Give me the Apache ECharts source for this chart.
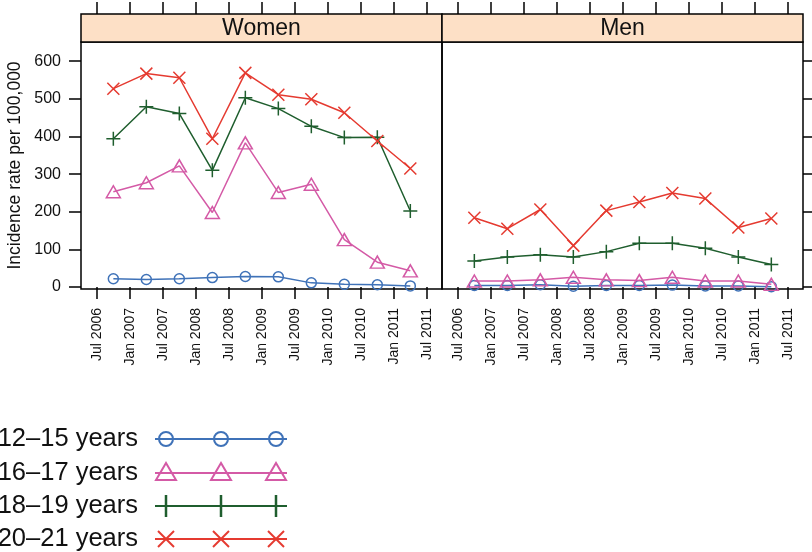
<!DOCTYPE html>
<html>
<head>
<meta charset="utf-8">
<script src="https://cdn.jsdelivr.net/npm/echarts@6/dist/echarts.min.js"></script>
<style>
html,body{margin:0;padding:0;background:#fff;}
#chart{width:812px;height:552px;}
</style>
</head>
<body>
<div id="chart"></div>
<script>
// ---- data ----
const panels = ['Women', 'Men'];
const ageGroups = ['12\u201315 years', '16\u201317 years', '18\u201319 years', '20\u201321 years'];
// mid-points of half-year periods (decimal years)
const periods = [2006.75, 2007.25, 2007.75, 2008.25, 2008.75, 2009.25, 2009.75, 2010.25, 2010.75, 2011.25];
const xTickValues = [2006.5, 2007, 2007.5, 2008, 2008.5, 2009, 2009.5, 2010, 2010.5, 2011, 2011.5];
const xTickLabels = ['Jul 2006', 'Jan 2007', 'Jul 2007', 'Jan 2008', 'Jul 2008', 'Jan 2009', 'Jul 2009', 'Jan 2010', 'Jul 2010', 'Jan 2011', 'Jul 2011'];
const yTickValues = [0, 100, 200, 300, 400, 500, 600];

const women12_15 = [22, 20, 22, 25, 28, 27, 11, 7, 6, 3];
const women16_17 = [253, 277, 322, 198, 383, 251, 273, 126, 66, 43];
const women18_19 = [394, 479, 461, 310, 503, 474, 427, 397, 398, 202];
const women20_21 = [527, 567, 556, 394, 569, 511, 499, 463, 388, 315];

const men12_15 = [4, 4, 6, 2, 4, 4, 5, 3, 3, 1];
const men16_17 = [16, 16, 19, 26, 19, 17, 26, 16, 16, 7];
const men18_19 = [69, 80, 86, 80, 94, 116, 116, 103, 80, 60];
const men20_21 = [184, 155, 206, 110, 203, 226, 250, 235, 158, 182];

const panelData = [
  [women12_15, women16_17, women18_19, women20_21],
  [men12_15, men16_17, men18_19, men20_21]
];

// ---- styling ----
const colors = ['#3f72b8', '#d45aa6', '#1f5e2e', '#e53a30'];
const FONT = 'Liberation Sans, Arial, Helvetica, sans-serif';
const symbols = [
  'circle',
  'triangle',
  'path://M0,6L12,6M6,0L6,12',
  'path://M0,0L12,12M12,0L0,12'
];
const symbolSizes = [10, [14, 12], 14, 12];

const X_MIN = 2006.26, X_MAX = 2011.73;
const Y_MIN = -5.3, Y_MAX = 651;
const gridLeft = [81, 442];
const gridW = 361, gridTop = 42, gridH = 247;

function xLabel(v) {
  const i = xTickValues.findIndex(t => Math.abs(t - v) < 1e-6);
  return i >= 0 ? xTickLabels[i] : '';
}

const grids = [], xAxes = [], yAxes = [], series = [];
panels.forEach((p, pi) => {
  grids.push({left: gridLeft[pi], top: gridTop, width: gridW, height: gridH,
    show: true, borderColor: '#000', borderWidth: 1.5, backgroundColor: 'transparent'});
  // bottom axis
  xAxes.push({type: 'value', gridIndex: pi, position: 'bottom', min: X_MIN, max: X_MAX,
    axisLine: {show: false}, splitLine: {show: false},
    axisTick: {show: true, length: 12, customValues: xTickValues, lineStyle: {color: '#000', width: 1.5}},
    axisLabel: {show: true, customValues: xTickValues, rotate: 90, margin: 19, formatter: xLabel,
      fontFamily: FONT, fontSize: 14, color: '#111'}});
  // top axis (ticks only, above strip)
  xAxes.push({type: 'value', gridIndex: pi, position: 'top', offset: 28, min: X_MIN, max: X_MAX,
    axisLine: {show: false}, splitLine: {show: false},
    axisTick: {show: true, length: 12, customValues: xTickValues, lineStyle: {color: '#000', width: 1.5}},
    axisLabel: {show: false}});
  yAxes.push({type: 'value', gridIndex: pi, position: pi === 0 ? 'left' : 'right', min: Y_MIN, max: Y_MAX,
    axisLine: {show: false}, splitLine: {show: false},
    axisTick: {show: true, length: 12, customValues: yTickValues, lineStyle: {color: '#000', width: 1.5}},
    axisLabel: {show: pi === 0, customValues: yTickValues, margin: 20, fontFamily: FONT, fontSize: 16, color: '#111'},
    name: pi === 0 ? 'Incidence rate per 100,000' : '', nameLocation: 'middle', nameGap: 57, nameRotate: 90,
    nameTextStyle: {fontFamily: FONT, fontSize: 17.5, color: '#111'}});
  panelData[pi].forEach((vals, gi) => {
    series.push({
      type: 'line', name: ageGroups[gi], xAxisIndex: pi * 2, yAxisIndex: pi,
      data: periods.map((x, i) => [x, vals[i]]),
      symbol: symbols[gi], symbolSize: symbolSizes[gi], showAllSymbol: true,
      lineStyle: {color: colors[gi], width: 1.5},
      itemStyle: {color: 'rgba(0,0,0,0)', borderColor: colors[gi], borderWidth: 1.5},
      emphasis: {disabled: true}, animation: false, z: 2 + gi
    });
  });
});

// strips and legend as graphics
const graphics = [];
panels.forEach((p, pi) => {
  graphics.push({type: 'rect', shape: {x: gridLeft[pi], y: 14, width: gridW, height: 28},
    style: {fill: '#fde0c6', stroke: '#000', lineWidth: 1.5}});
  graphics.push({type: 'text', x: gridLeft[pi] + gridW / 2, y: 29,
    style: {text: p, fill: '#111', font: '23px ' + FONT, textAlign: 'center', textVerticalAlign: 'middle'}});
});
const legendY = [439, 473, 506, 539];
const markX = [166, 221, 276];
ageGroups.forEach((g, gi) => {
  const cy = legendY[gi], c = colors[gi];
  graphics.push({type: 'text', x: 138, y: cy,
    style: {text: g, fill: '#111', font: '25.5px ' + FONT, textAlign: 'right', textVerticalAlign: 'middle'}});
  graphics.push({type: 'line', shape: {x1: 155, y1: cy, x2: 287, y2: cy}, style: {stroke: c, lineWidth: 2}});
  markX.forEach(mx => {
    if (gi === 0) {
      graphics.push({type: 'circle', shape: {cx: mx, cy: cy, r: 7}, style: {fill: 'none', stroke: c, lineWidth: 2}});
    } else if (gi === 1) {
      graphics.push({type: 'polygon', shape: {points: [[mx - 10, cy + 7], [mx + 10, cy + 7], [mx, cy - 10]]},
        style: {fill: 'none', stroke: c, lineWidth: 2}});
    } else if (gi === 2) {
      graphics.push({type: 'line', shape: {x1: mx, y1: cy - 11, x2: mx, y2: cy + 11}, style: {stroke: c, lineWidth: 2.5}});
    } else {
      graphics.push({type: 'line', shape: {x1: mx - 8, y1: cy - 8, x2: mx + 8, y2: cy + 8}, style: {stroke: c, lineWidth: 2}});
      graphics.push({type: 'line', shape: {x1: mx + 8, y1: cy - 8, x2: mx - 8, y2: cy + 8}, style: {stroke: c, lineWidth: 2}});
    }
  });
});

const chart = echarts.init(document.getElementById('chart'), null, {renderer: 'canvas'});
chart.setOption({
  animation: false,
  backgroundColor: '#fff',
  grid: grids, xAxis: xAxes, yAxis: yAxes, series: series,
  graphic: graphics
});
</script>
</body>
</html>
